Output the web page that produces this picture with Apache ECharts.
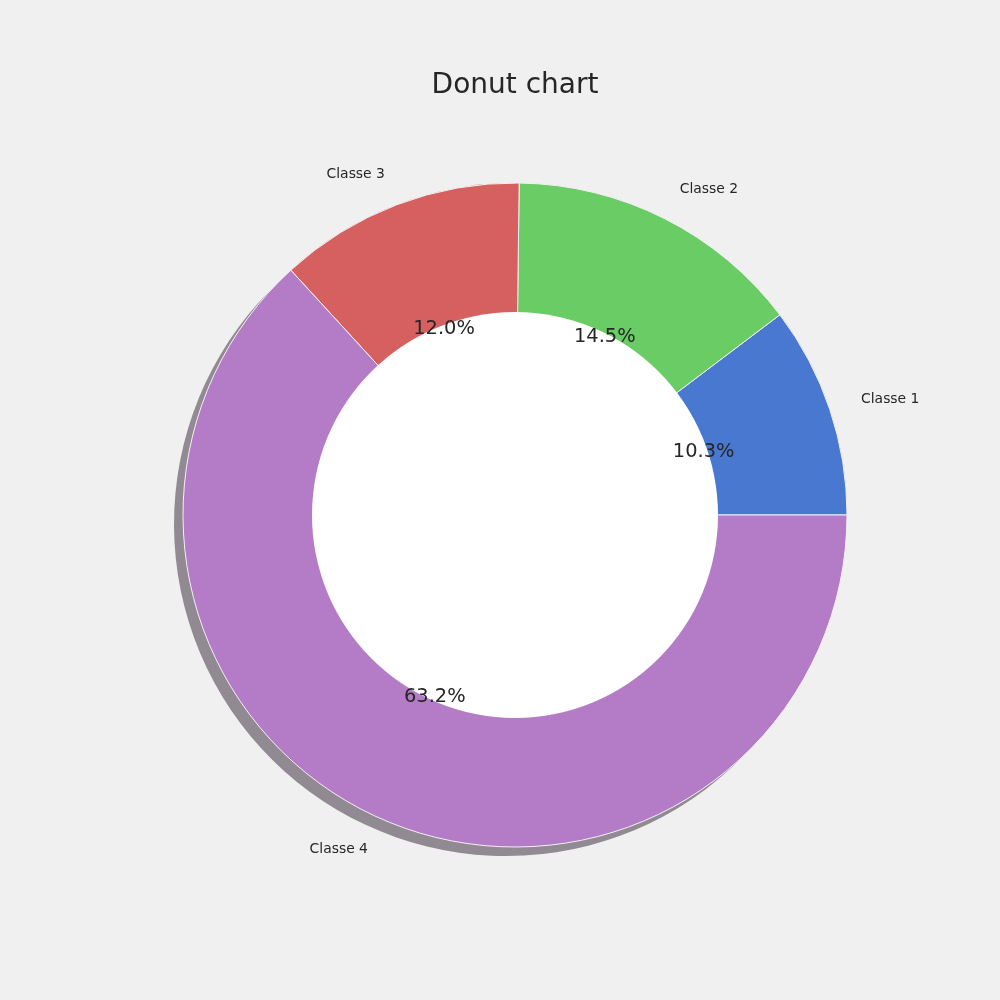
<!DOCTYPE html>
<html>
<head>
<meta charset="utf-8">
<script src="https://cdn.jsdelivr.net/npm/echarts@6/dist/echarts.min.js"></script>
<style>html,body{margin:0;padding:0;background:#f0f0f0;}#c{width:1000px;height:1000px;}</style>
</head>
<body>
<div id="c"></div>
<script>
const categories = ['Classe 1', 'Classe 2', 'Classe 3', 'Classe 4'];
const values = [10.3, 14.5, 12.0, 63.2];
const colors = ['#4878d0', '#6acc64', '#d65f5f', '#b47cc7'];

const chart = echarts.init(document.getElementById('c'), null, {renderer: 'canvas'});
const font = 'DejaVu Sans';
const mainData = categories.map((c, i) => ({name: c, value: values[i], itemStyle: {color: colors[i]}}));
const common = {startAngle: 0, clockwise: false, avoidLabelOverlap: false, animation: false, emphasis: {disabled: true}};

chart.setOption({
  backgroundColor: '#f0f0f0',
  title: {
    text: 'Donut chart', left: 510, top: 67, textAlign: 'center',
    textStyle: {fontFamily: font, fontSize: 28, fontWeight: 'normal', color: '#262626'}
  },
  series: [
    Object.assign({}, common, {
      type: 'pie', silent: true, z: 1, center: [506, 524], radius: [0, 332],
      data: categories.map((c, i) => ({name: c, value: values[i]})),
      itemStyle: {color: '#918a93', borderWidth: 0},
      label: {show: false}, labelLine: {show: false}
    }),
    Object.assign({}, common, {
      type: 'pie', silent: true, z: 2, center: [515, 515], radius: [0, 332],
      data: mainData,
      itemStyle: {borderColor: '#f4f0f4', borderWidth: 1},
      label: {
        show: true, position: 'outside', formatter: '{b}', distanceToLabelLine: 0,
        fontFamily: font, fontSize: 13.9, color: '#262626'
      },
      labelLine: {show: false, length: 33, length2: 0}
    }),
    Object.assign({}, common, {
      type: 'pie', silent: true, z: 3, center: [515, 515], radius: [0, 203],
      data: [{name: 'hole', value: 1}],
      itemStyle: {color: '#ffffff', borderWidth: 0},
      label: {show: false}, labelLine: {show: false}
    }),
    Object.assign({}, common, {
      type: 'pie', silent: true, z: 4, center: [515, 515], radius: [0, 392],
      data: categories.map((c, i) => ({name: c, value: values[i]})),
      itemStyle: {color: 'rgba(0,0,0,0)', borderWidth: 0},
      label: {
        show: true, position: 'inside',
        formatter: p => p.value.toFixed(1) + '%',
        fontFamily: font, fontSize: 19.4, color: '#262626'
      },
      labelLine: {show: false}
    })
  ]
});
</script>
</body>
</html>
